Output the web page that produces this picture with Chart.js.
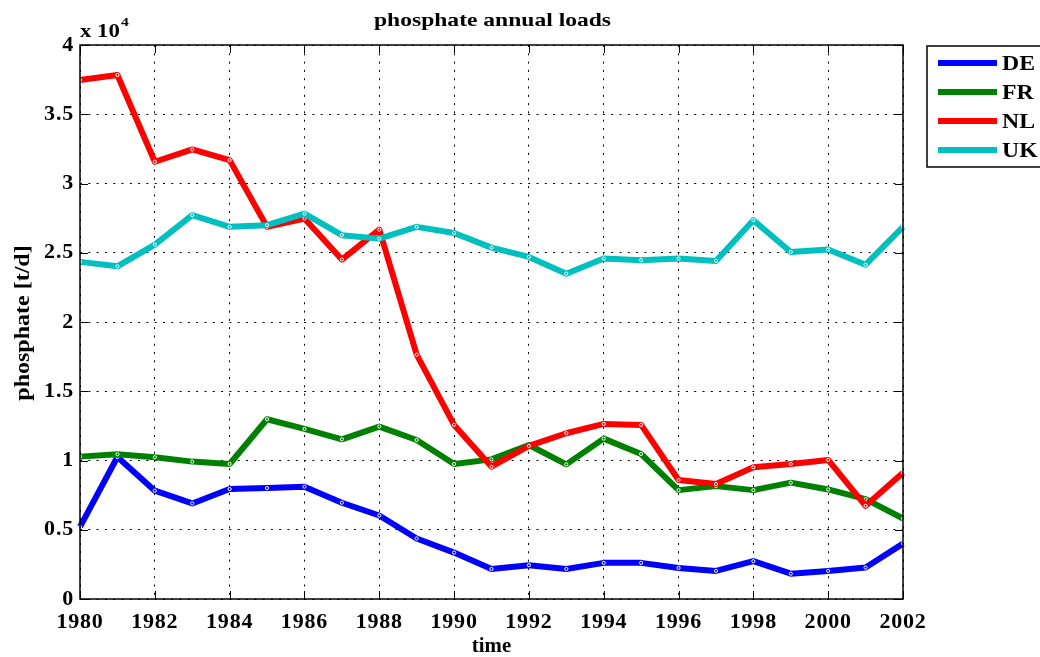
<!DOCTYPE html>
<html>
<head>
<meta charset="utf-8">
<script src="https://cdn.jsdelivr.net/npm/chart.js@4.4.0/dist/chart.umd.min.js"></script>
<style>
html,body{margin:0;padding:0;background:#fff;}
#wrap{width:1040px;height:657px;position:relative;}
</style>
</head>
<body>
<div id="wrap"><canvas id="c" width="1040" height="657"></canvas></div>
<script>
const years = [1980,1981,1982,1983,1984,1985,1986,1987,1988,1989,1990,1991,1992,1993,1994,1995,1996,1997,1998,1999,2000,2001,2002];
const DE = [5210,10250,7820,6900,7940,8010,8110,6950,6030,4370,3350,2170,2440,2170,2610,2610,2240,2030,2730,1830,2030,2270,4000];
const FR = [10280,10450,10230,9920,9750,12980,12280,11530,12450,11480,9750,10080,11120,9720,11580,10470,7860,8150,7860,8400,7910,7210,5810];
const NL = [37470,37830,31570,32460,31690,26870,27470,24510,26670,17640,12570,9550,11050,11970,12640,12570,8590,8300,9510,9750,10040,6730,9120];
const UK = [24340,24020,25590,27710,26870,26990,27830,26270,26020,26870,26430,25370,24700,23490,24580,24460,24580,24410,27350,25060,25230,24140,26870];
const seriesNames = ['DE','FR','NL','UK'];
const seriesColors = ['#0000ff','#008000','#ff0000','#00bfbf'];
const xTicks = [1980,1982,1984,1986,1988,1990,1992,1994,1996,1998,2000,2002];
const yTicks = [0,5000,10000,15000,20000,25000,30000,35000,40000];
const titleText = 'phosphate annual loads';
const xTitle = 'time';
const yTitle = 'phosphate [t/d]';

const SERIF = '"Liberation Serif","Times New Roman",serif';
const allSeries = [DE, FR, NL, UK];

const datasets = allSeries.map((vals, i) => ({
  label: seriesNames[i],
  data: years.map((y, k) => ({x: y, y: vals[k]})),
  borderColor: seriesColors[i],
  backgroundColor: seriesColors[i],
  borderWidth: 6,
  borderJoinStyle: 'round',
  borderCapStyle: 'butt',
  pointRadius: 1.6,
  pointBorderWidth: 1,
  pointBorderColor: '#ffffff',
  pointBackgroundColor: 'rgba(0,0,0,0)',
  pointHoverRadius: 1.6,
  tension: 0,
  order: 4 - i,
  clip: 4
}));

const spacing = {
  id: 'spacing',
  beforeDraw(chart) { chart.ctx.letterSpacing = '0.8px'; }
};

const overlay = {
  id: 'overlay',
  afterDraw(chart) {
    const ctx = chart.ctx;
    const a = chart.chartArea;
    const xs = chart.scales.x, ys = chart.scales.y;
    ctx.save();
    // axis box
    ctx.strokeStyle = '#000';
    ctx.lineWidth = 1.5;
    ctx.strokeRect(a.left, a.top, a.right - a.left, a.bottom - a.top);
    // inward ticks
    ctx.lineWidth = 1;
    const tl = 8;
    ctx.beginPath();
    xTicks.forEach(v => {
      const px = Math.round(xs.getPixelForValue(v)) + 0.5;
      ctx.moveTo(px, a.bottom); ctx.lineTo(px, a.bottom - tl);
      ctx.moveTo(px, a.top); ctx.lineTo(px, a.top + tl);
    });
    yTicks.forEach(v => {
      const py = Math.round(ys.getPixelForValue(v)) + 0.5;
      ctx.moveTo(a.left, py); ctx.lineTo(a.left + tl, py);
      ctx.moveTo(a.right, py); ctx.lineTo(a.right - tl, py);
    });
    ctx.stroke();
    ctx.fillStyle = '#000';
    ctx.letterSpacing = '0px';
    // title (horizontally widened like the original rendering)
    ctx.save();
    ctx.font = 'bold 19px ' + SERIF;
    ctx.textAlign = 'center';
    ctx.textBaseline = 'alphabetic';
    ctx.translate((a.left + a.right) / 2 + 1, 26);
    ctx.scale(1.24, 1);
    ctx.fillText(titleText, 0, 0);
    ctx.restore();
    // x title
    ctx.save();
    ctx.font = 'bold 20px ' + SERIF;
    ctx.textAlign = 'center';
    ctx.textBaseline = 'alphabetic';
    ctx.translate((a.left + a.right) / 2, 652);
    ctx.scale(1.04, 1);
    ctx.fillText(xTitle, 0, 0);
    ctx.restore();
    // y title
    ctx.save();
    ctx.font = 'bold 20px ' + SERIF;
    ctx.textAlign = 'center';
    ctx.textBaseline = 'middle';
    ctx.translate(24, (a.top + a.bottom) / 2 + 1);
    ctx.rotate(-Math.PI / 2);
    ctx.scale(1.2, 1);
    ctx.fillText(yTitle, 0, 0);
    ctx.restore();
    // exponent label
    ctx.save();
    ctx.textAlign = 'left';
    ctx.textBaseline = 'alphabetic';
    ctx.font = 'bold 19px ' + SERIF;
    ctx.translate(a.left, 37);
    ctx.scale(1.2, 1);
    ctx.fillText('x 10', 0, 0);
    const w = ctx.measureText('x 10').width;
    ctx.font = 'bold 13px ' + SERIF;
    ctx.fillText('4', w + 1, -11);
    ctx.restore();
    // legend
    const lx = 927, ly = 46, lh = 121;
    ctx.fillStyle = '#fff';
    ctx.fillRect(lx, ly, 1045 - lx, lh);
    ctx.strokeStyle = '#000';
    ctx.lineWidth = 1.5;
    ctx.strokeRect(lx, ly, 1045 - lx, lh);
    chart.data.datasets.forEach((ds, i) => {
      const yy = 63 + i * 29;
      ctx.strokeStyle = ds.borderColor;
      ctx.lineWidth = 6;
      ctx.beginPath();
      ctx.moveTo(938, yy); ctx.lineTo(997, yy);
      ctx.stroke();
      ctx.save();
      ctx.fillStyle = '#000';
      ctx.font = 'bold 22px ' + SERIF;
      ctx.textAlign = 'left';
      ctx.textBaseline = 'middle';
      ctx.translate(1002, yy + 1);
      ctx.scale(1.08, 1);
      ctx.fillText(ds.label, 0, 0);
      ctx.restore();
    });
    ctx.restore();
  }
};

new Chart(document.getElementById('c'), {
  type: 'line',
  data: { datasets },
  options: {
    responsive: false,
    animation: false,
    events: [],
    layout: { padding: { left: 0, right: 137, top: 45, bottom: 0 } },
    plugins: {
      legend: { display: false },
      tooltip: { enabled: false },
      title: { display: false }
    },
    scales: {
      x: {
        type: 'linear',
        min: 1980, max: 2002,
        afterFit(s) { s.height = 58; },
        afterBuildTicks(s) { s.ticks = xTicks.map(v => ({value: v})); },
        ticks: {
          color: '#000',
          padding: 10,
          maxRotation: 0,
          autoSkip: false,
          font: { family: SERIF, size: 22, weight: 'bold' },
          callback: v => String(v)
        },
        grid: { color: '#000', lineWidth: 1, drawTicks: false },
        border: { display: false, dash: [2, 6.3] },
        title: { display: false }
      },
      y: {
        type: 'linear',
        min: 0, max: 40000,
        afterFit(s) { s.width = 80; },
        afterBuildTicks(s) { s.ticks = yTicks.map(v => ({value: v})); },
        ticks: {
          color: '#000',
          padding: 6,
          font: { family: SERIF, size: 22, weight: 'bold' },
          callback: v => String(v / 10000)
        },
        grid: { color: '#000', lineWidth: 1, drawTicks: false },
        border: { display: false, dash: [2, 6.3] },
        title: { display: false }
      }
    }
  },
  plugins: [spacing, overlay]
});
</script>
</body>
</html>
